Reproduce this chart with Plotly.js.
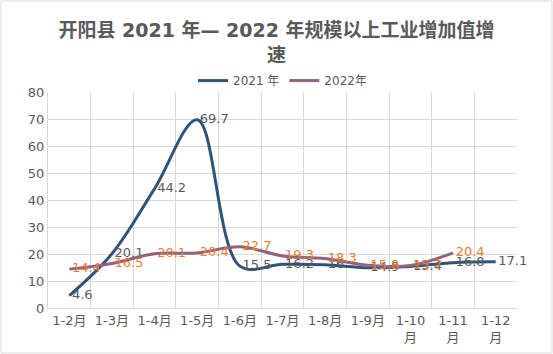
<!DOCTYPE html>
<html>
<head>
<meta charset="utf-8">
<script src="https://cdn.plot.ly/plotly-3.0.1.min.js"></script>
<style>
html,body{margin:0;padding:0;background:#fff;}
#chart{width:553px;height:354px;}
</style>
</head>
<body>
<div id="chart"></div>
<script>
var categories = ["1-2月","1-3月","1-4月","1-5月","1-6月","1-7月","1-8月","1-9月","1-10月","1-11月","1-12月"];
var tickLabels = ["1-2月","1-3月","1-4月","1-5月","1-6月","1-7月","1-8月","1-9月","1-10<br>月","1-11<br>月","1-12<br>月"];
var values2021 = [4.6, 20.1, 44.2, 69.7, 15.5, 16.2, 16, 14.9, 15.4, 16.8, 17.1];
var values2022 = [14.4, 16.5, 20.1, 20.4, 22.7, 19.3, 18.3, 15.8, 15.7, 20.4, null];
var seriesNames = ["2021 年", "2022年"];
var titleText = "<b>开阳县 2021 年— 2022 年规模以上工业增加值增<br>速</b>";

var FONT = "DejaVu Sans, Noto Sans CJK SC, sans-serif";
var GRAY = "#595959";

function labels(arr){ return arr.map(function(v){ return v === null ? "" : "\u2009" + String(v); }); }

var traces = [
  {
    x: categories, y: values2021, name: seriesNames[0],
    type: "scatter", mode: "lines+text",
    line: {color: "#305479", width: 3, shape: "spline", smoothing: 1},
    text: labels(values2021), textposition: "middle right",
    textfont: {family: FONT, size: 13, color: GRAY},
    cliponaxis: false
  },
  {
    x: categories, y: values2022, name: seriesNames[1],
    type: "scatter", mode: "lines+text",
    line: {color: "#94627F", width: 3, shape: "spline", smoothing: 1},
    text: labels(values2022), textposition: "middle right",
    textfont: {family: FONT, size: 13, color: "#ED7D31"},
    cliponaxis: false
  }
];

var layout = {
  width: 553, height: 354,
  margin: {l: 48, r: 36, t: 92, b: 46},
  paper_bgcolor: "#fff", plot_bgcolor: "#fff",
  font: {family: FONT, color: GRAY},
  title: {
    text: titleText,
    font: {family: FONT, size: 19, color: GRAY},
    x: 0.5, xanchor: "center", yref: "container", y: 0.895, yanchor: "top"
  },
  showlegend: true,
  legend: {
    orientation: "h", x: 0.5, xanchor: "center", yref: "paper", y: 1.12, yanchor: "top",
    font: {family: FONT, size: 12, color: GRAY},
    itemwidth: 30, traceorder: "normal", bgcolor: "rgba(0,0,0,0)"
  },
  xaxis: {
    type: "category", categoryarray: categories,
    tickmode: "array", tickvals: categories, ticktext: tickLabels,
    range: [-0.5, 10.5],
    showgrid: true, gridcolor: "#D9D9D9", gridwidth: 1,
    tickson: "boundaries", ticks: "",
    showline: true, linecolor: "#D9D9D9", linewidth: 1,
    mirror: false, zeroline: false,
    tickfont: {family: FONT, size: 13, color: GRAY},
    tickangle: 0
  },
  yaxis: {
    range: [0, 80], dtick: 10, tick0: 0,
    showgrid: true, gridcolor: "#D9D9D9", gridwidth: 1,
    showline: true, linecolor: "#D9D9D9", linewidth: 1,
    zeroline: false, ticks: "",
    tickfont: {family: FONT, size: 13, color: GRAY}
  },
  shapes: [
    {type: "rect", xref: "paper", yref: "paper",
     x0: -47/469, x1: 1 + 35/469, y0: -45/216, y1: 1 + 91/216,
     line: {color: "#D9D9D9", width: 1}}
  ]
};

Plotly.newPlot("chart", traces, layout, {displayModeBar: false, staticPlot: true});
</script>
</body>
</html>
